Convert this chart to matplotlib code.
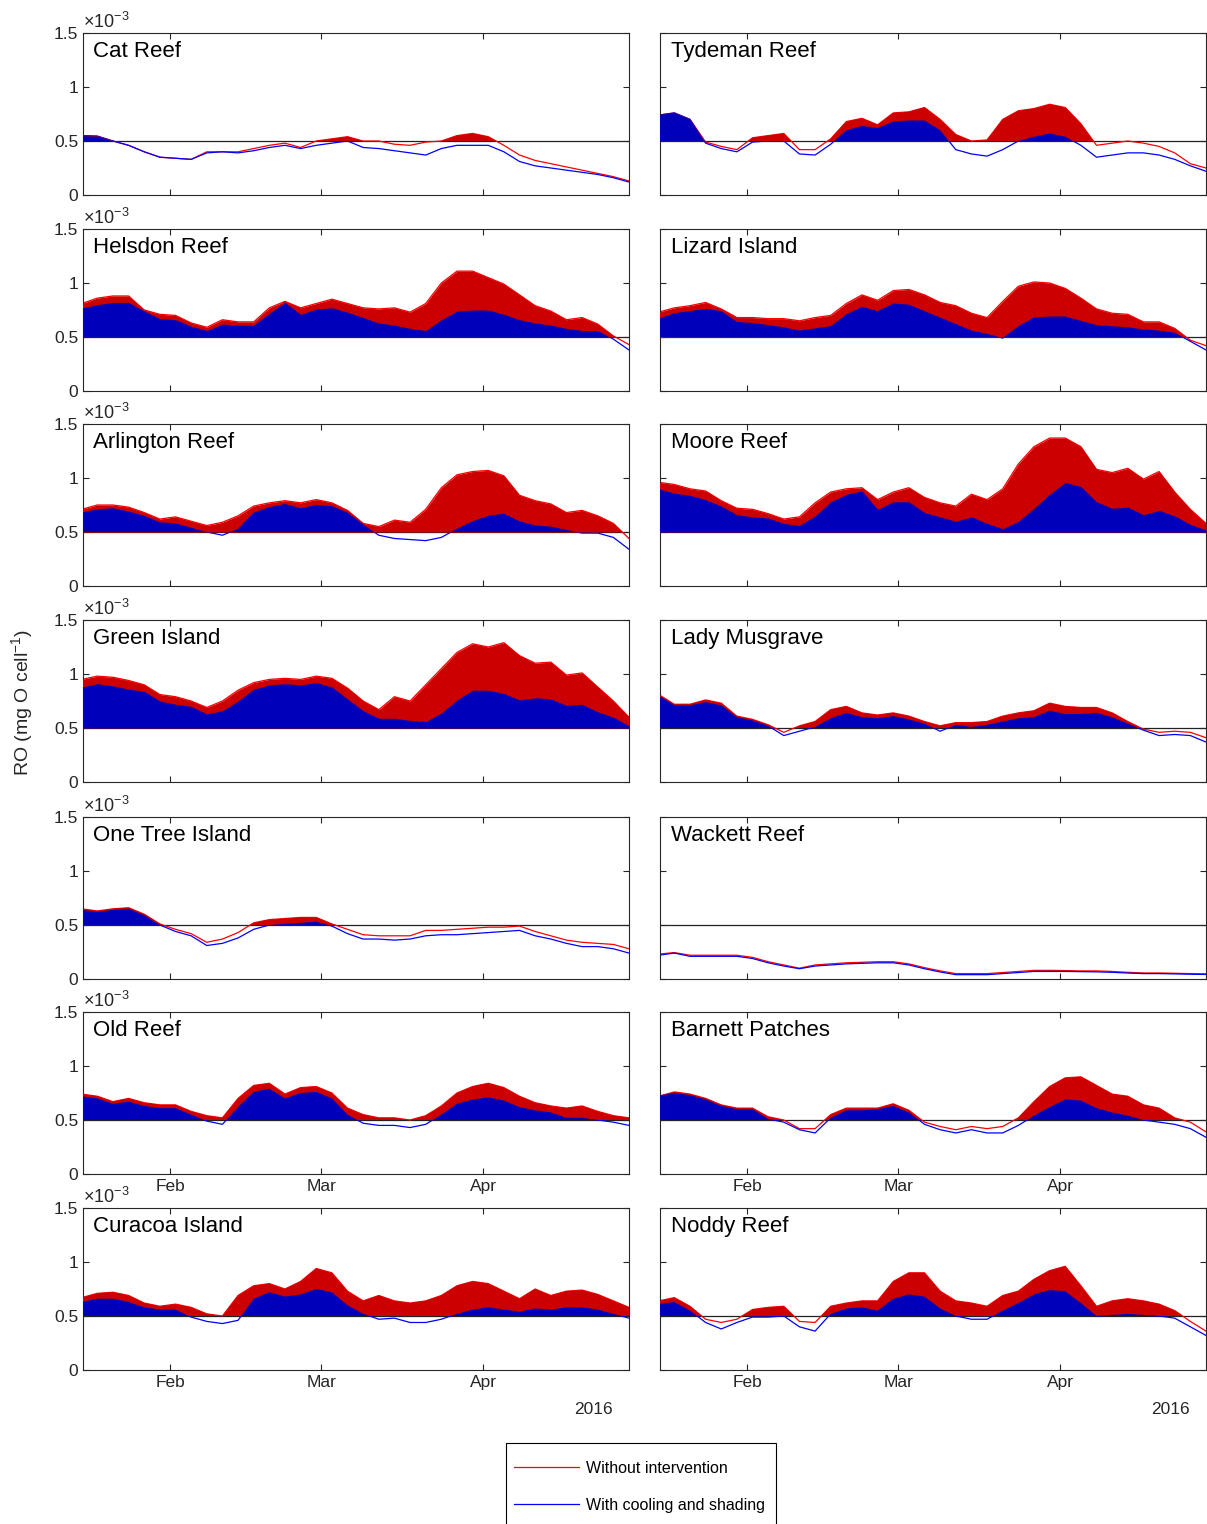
import numpy as np
import pandas as pd
import matplotlib
matplotlib.use("Agg")
import matplotlib.pyplot as plt
import matplotlib.dates as mdates
from matplotlib.lines import Line2D
from matplotlib.patches import Rectangle

plt.rcParams['font.family'] = ['Liberation Sans', 'DejaVu Sans']
plt.rcParams['mathtext.fontset'] = 'custom'
plt.rcParams['mathtext.rm'] = 'Liberation Sans'
plt.rcParams['mathtext.it'] = 'Liberation Sans:italic'

# sample dates, every 3 days (units of 1e-3 mg O cell^-1)
dates = pd.date_range('2016-01-15', '2016-04-29', freq='3D')

cat_red = [0.55, 0.545, 0.50, 0.46, 0.40, 0.35, 0.34, 0.33, 0.40, 0.40, 0.40, 0.43, 0.46, 0.48, 0.44, 0.50, 0.52, 0.54,
           0.50, 0.50, 0.47, 0.46, 0.49, 0.50, 0.55, 0.57, 0.54, 0.46, 0.37, 0.32, 0.29, 0.26, 0.23, 0.20, 0.17, 0.13]
cat_blue = [0.55, 0.545, 0.50, 0.46, 0.40, 0.35, 0.34, 0.33, 0.39, 0.40, 0.39, 0.41, 0.44, 0.46, 0.43, 0.46, 0.48, 0.50,
            0.44, 0.43, 0.41, 0.39, 0.37, 0.43, 0.46, 0.46, 0.46, 0.40, 0.31, 0.27, 0.25, 0.23, 0.21, 0.19, 0.16, 0.12]

tyd_red = [0.74, 0.76, 0.70, 0.49, 0.45, 0.42, 0.53, 0.55, 0.57, 0.42, 0.42, 0.52, 0.68, 0.71, 0.65, 0.76, 0.77, 0.81,
           0.70, 0.56, 0.50, 0.51, 0.70, 0.78, 0.80, 0.84, 0.81, 0.66, 0.46, 0.48, 0.50, 0.48, 0.45, 0.39, 0.29, 0.25]
tyd_blue = [0.74, 0.76, 0.70, 0.48, 0.43, 0.40, 0.49, 0.50, 0.50, 0.38, 0.37, 0.47, 0.60, 0.64, 0.62, 0.68, 0.69, 0.69,
            0.60, 0.42, 0.38, 0.36, 0.42, 0.50, 0.54, 0.57, 0.54, 0.46, 0.35, 0.37, 0.39, 0.39, 0.37, 0.33, 0.27, 0.22]

hel_red = [0.81, 0.86, 0.88, 0.88, 0.75, 0.71, 0.70, 0.63, 0.59, 0.66, 0.64, 0.64, 0.77, 0.83, 0.77, 0.81, 0.85, 0.81,
           0.77, 0.76, 0.77, 0.73, 0.81, 1.00, 1.11, 1.11, 1.05, 0.99, 0.89, 0.79, 0.74, 0.66, 0.68, 0.62, 0.51, 0.43]
hel_blue = [0.77, 0.80, 0.82, 0.82, 0.74, 0.67, 0.66, 0.60, 0.56, 0.62, 0.61, 0.61, 0.72, 0.82, 0.71, 0.76, 0.77, 0.73,
            0.68, 0.63, 0.61, 0.58, 0.56, 0.66, 0.74, 0.75, 0.75, 0.71, 0.66, 0.63, 0.61, 0.58, 0.56, 0.56, 0.48, 0.38]

liz_red = [0.73, 0.77, 0.79, 0.82, 0.76, 0.68, 0.68, 0.67, 0.67, 0.65, 0.68, 0.70, 0.81, 0.89, 0.84, 0.93, 0.94, 0.89,
           0.82, 0.79, 0.72, 0.68, 0.83, 0.97, 1.01, 1.00, 0.95, 0.86, 0.76, 0.72, 0.71, 0.64, 0.64, 0.58, 0.47, 0.42]
liz_blue = [0.67, 0.72, 0.74, 0.76, 0.74, 0.64, 0.63, 0.61, 0.59, 0.56, 0.58, 0.60, 0.71, 0.78, 0.74, 0.81, 0.80, 0.74,
            0.68, 0.62, 0.56, 0.53, 0.49, 0.60, 0.68, 0.69, 0.69, 0.65, 0.61, 0.60, 0.59, 0.57, 0.56, 0.54, 0.46, 0.38]

arl_red = [0.71, 0.75, 0.75, 0.73, 0.68, 0.62, 0.64, 0.60, 0.56, 0.59, 0.65, 0.74, 0.77, 0.79, 0.77, 0.80, 0.77, 0.70,
           0.58, 0.55, 0.61, 0.59, 0.71, 0.91, 1.03, 1.06, 1.07, 1.02, 0.84, 0.79, 0.76, 0.68, 0.70, 0.65, 0.58, 0.44]
arl_blue = [0.68, 0.71, 0.72, 0.69, 0.65, 0.59, 0.58, 0.54, 0.50, 0.47, 0.53, 0.68, 0.73, 0.76, 0.72, 0.75, 0.74, 0.68,
            0.57, 0.47, 0.44, 0.43, 0.42, 0.45, 0.53, 0.60, 0.65, 0.67, 0.60, 0.56, 0.55, 0.52, 0.49, 0.49, 0.45, 0.34]

moo_red = [0.96, 0.94, 0.90, 0.88, 0.79, 0.72, 0.71, 0.67, 0.62, 0.64, 0.77, 0.87, 0.90, 0.91, 0.80, 0.87, 0.91, 0.82,
           0.77, 0.74, 0.85, 0.80, 0.90, 1.13, 1.29, 1.37, 1.37, 1.29, 1.08, 1.05, 1.09, 0.99, 1.06, 0.87, 0.71, 0.58]
moo_blue = [0.90, 0.86, 0.84, 0.80, 0.74, 0.66, 0.64, 0.63, 0.58, 0.56, 0.65, 0.78, 0.85, 0.88, 0.71, 0.78, 0.78, 0.68,
            0.64, 0.60, 0.64, 0.58, 0.53, 0.60, 0.72, 0.85, 0.96, 0.92, 0.78, 0.72, 0.73, 0.66, 0.70, 0.65, 0.57, 0.52]

grn_red = [0.95, 0.98, 0.97, 0.94, 0.90, 0.81, 0.79, 0.75, 0.69, 0.75, 0.85, 0.92, 0.95, 0.96, 0.95, 0.98, 0.96, 0.87,
           0.75, 0.67, 0.79, 0.75, 0.90, 1.05, 1.20, 1.28, 1.25, 1.29, 1.17, 1.10, 1.11, 0.99, 1.01, 0.88, 0.75, 0.60]
grn_blue = [0.88, 0.91, 0.89, 0.86, 0.84, 0.75, 0.72, 0.70, 0.63, 0.66, 0.75, 0.86, 0.90, 0.91, 0.90, 0.92, 0.88, 0.77,
            0.66, 0.59, 0.59, 0.57, 0.56, 0.64, 0.76, 0.85, 0.85, 0.82, 0.76, 0.78, 0.77, 0.71, 0.72, 0.65, 0.60, 0.52]

lad_red = [0.81, 0.72, 0.72, 0.76, 0.73, 0.61, 0.58, 0.53, 0.46, 0.52, 0.56, 0.67, 0.70, 0.64, 0.62, 0.64, 0.61, 0.56,
           0.52, 0.55, 0.55, 0.56, 0.61, 0.64, 0.66, 0.73, 0.70, 0.69, 0.69, 0.64, 0.56, 0.49, 0.46, 0.47, 0.46, 0.41]
lad_blue = [0.80, 0.71, 0.71, 0.74, 0.71, 0.60, 0.57, 0.52, 0.43, 0.47, 0.51, 0.59, 0.64, 0.60, 0.59, 0.61, 0.58, 0.54,
            0.47, 0.53, 0.51, 0.53, 0.56, 0.59, 0.60, 0.66, 0.63, 0.63, 0.64, 0.60, 0.54, 0.48, 0.43, 0.44, 0.43, 0.37]

one_red = [0.65, 0.63, 0.65, 0.66, 0.60, 0.51, 0.46, 0.42, 0.34, 0.37, 0.43, 0.52, 0.55, 0.56, 0.57, 0.57, 0.51, 0.46,
           0.41, 0.40, 0.40, 0.40, 0.45, 0.45, 0.46, 0.47, 0.48, 0.48, 0.49, 0.44, 0.40, 0.36, 0.34, 0.33, 0.32, 0.28]
one_blue = [0.64, 0.62, 0.64, 0.65, 0.59, 0.50, 0.44, 0.40, 0.31, 0.33, 0.38, 0.46, 0.50, 0.51, 0.52, 0.53, 0.49, 0.42,
            0.37, 0.37, 0.36, 0.37, 0.40, 0.41, 0.41, 0.42, 0.43, 0.44, 0.45, 0.40, 0.37, 0.33, 0.30, 0.30, 0.28, 0.24]

wac_red = [0.23, 0.245, 0.22, 0.22, 0.22, 0.22, 0.20, 0.16, 0.13, 0.10, 0.13, 0.14, 0.15, 0.155, 0.16, 0.16, 0.14, 0.105,
           0.075, 0.05, 0.05, 0.05, 0.06, 0.07, 0.08, 0.08, 0.078, 0.075, 0.075, 0.07, 0.062, 0.056, 0.056, 0.053, 0.05, 0.048]
wac_blue = [0.22, 0.24, 0.21, 0.21, 0.21, 0.21, 0.19, 0.15, 0.12, 0.095, 0.12, 0.13, 0.14, 0.145, 0.15, 0.15, 0.13, 0.095,
            0.065, 0.04, 0.04, 0.04, 0.05, 0.06, 0.07, 0.07, 0.07, 0.068, 0.066, 0.062, 0.055, 0.05, 0.05, 0.047, 0.044, 0.042]

old_red = [0.74, 0.72, 0.67, 0.70, 0.66, 0.64, 0.64, 0.58, 0.54, 0.52, 0.70, 0.82, 0.84, 0.74, 0.80, 0.81, 0.75, 0.61,
           0.55, 0.52, 0.52, 0.50, 0.54, 0.63, 0.75, 0.81, 0.84, 0.80, 0.72, 0.66, 0.63, 0.61, 0.63, 0.58, 0.54, 0.52]
old_blue = [0.72, 0.70, 0.65, 0.67, 0.63, 0.61, 0.61, 0.55, 0.49, 0.46, 0.62, 0.76, 0.79, 0.70, 0.75, 0.76, 0.70, 0.55,
            0.47, 0.45, 0.45, 0.43, 0.46, 0.55, 0.65, 0.69, 0.71, 0.68, 0.62, 0.59, 0.57, 0.52, 0.52, 0.50, 0.48, 0.45]

bar_red = [0.72, 0.76, 0.74, 0.70, 0.64, 0.61, 0.61, 0.53, 0.50, 0.42, 0.42, 0.55, 0.61, 0.61, 0.61, 0.65, 0.59, 0.48,
           0.44, 0.41, 0.44, 0.42, 0.44, 0.52, 0.67, 0.81, 0.89, 0.90, 0.82, 0.74, 0.72, 0.64, 0.61, 0.52, 0.48, 0.39]
bar_blue = [0.72, 0.75, 0.73, 0.69, 0.63, 0.60, 0.60, 0.51, 0.48, 0.41, 0.38, 0.52, 0.59, 0.59, 0.60, 0.63, 0.57, 0.46,
            0.41, 0.38, 0.41, 0.38, 0.38, 0.45, 0.54, 0.62, 0.69, 0.68, 0.61, 0.57, 0.54, 0.50, 0.48, 0.46, 0.42, 0.34]

cur_red = [0.67, 0.71, 0.72, 0.69, 0.62, 0.59, 0.61, 0.58, 0.52, 0.50, 0.69, 0.78, 0.80, 0.75, 0.82, 0.94, 0.90, 0.73,
           0.64, 0.69, 0.64, 0.62, 0.64, 0.69, 0.78, 0.82, 0.80, 0.73, 0.66, 0.75, 0.69, 0.73, 0.74, 0.70, 0.64, 0.58]
cur_blue = [0.63, 0.66, 0.66, 0.63, 0.58, 0.56, 0.56, 0.49, 0.45, 0.43, 0.46, 0.66, 0.72, 0.68, 0.70, 0.75, 0.72, 0.60,
            0.52, 0.47, 0.48, 0.44, 0.44, 0.47, 0.52, 0.56, 0.58, 0.56, 0.54, 0.57, 0.56, 0.58, 0.58, 0.56, 0.52, 0.48]

nod_red = [0.64, 0.67, 0.59, 0.47, 0.44, 0.47, 0.56, 0.58, 0.59, 0.45, 0.44, 0.59, 0.62, 0.64, 0.64, 0.82, 0.90, 0.90,
           0.73, 0.64, 0.62, 0.59, 0.69, 0.73, 0.84, 0.92, 0.96, 0.78, 0.59, 0.64, 0.66, 0.64, 0.61, 0.55, 0.45, 0.36]
nod_blue = [0.61, 0.63, 0.55, 0.44, 0.38, 0.44, 0.49, 0.49, 0.50, 0.40, 0.36, 0.52, 0.57, 0.58, 0.55, 0.66, 0.70, 0.68,
            0.57, 0.50, 0.47, 0.47, 0.55, 0.62, 0.70, 0.74, 0.73, 0.62, 0.50, 0.51, 0.52, 0.51, 0.50, 0.48, 0.40, 0.32]

left_sites = [("Cat Reef", cat_red, cat_blue), ("Helsdon Reef", hel_red, hel_blue),
              ("Arlington Reef", arl_red, arl_blue), ("Green Island", grn_red, grn_blue),
              ("One Tree Island", one_red, one_blue), ("Old Reef", old_red, old_blue),
              ("Curacoa Island", cur_red, cur_blue)]
right_sites = [("Tydeman Reef", tyd_red, tyd_blue), ("Lizard Island", liz_red, liz_blue),
               ("Moore Reef", moo_red, moo_blue), ("Lady Musgrave", lad_red, lad_blue),
               ("Wackett Reef", wac_red, wac_blue), ("Barnett Patches", bar_red, bar_blue),
               ("Noddy Reef", nod_red, nod_blue)]

threshold = 0.5
W, H = 1207, 1524
row_tops = [33, 229, 424, 620, 817, 1012, 1208]
row_h = 162
axcol = '#262626'

fig = plt.figure(figsize=(W / 100, H / 100), dpi=100)


def draw_panel(ax, name, red, blue, is_left, row):
    red = np.array(red)
    blue = np.array(blue)
    ax.plot(dates, red, color='#ff0000', lw=0.9, zorder=2)
    ax.plot(dates, blue, color='#0000ff', lw=0.9, zorder=2)
    ax.fill_between(dates, threshold, red, where=red > threshold, interpolate=True,
                    color='#cc0000', lw=0, zorder=3)
    ax.fill_between(dates, threshold, blue, where=blue > threshold, interpolate=True,
                    color='#0000bb', lw=0, zorder=4)
    ax.axhline(threshold, color='#222222', lw=0.9, zorder=1)

    ax.set_xlim(pd.Timestamp('2016-01-15 06:00'), pd.Timestamp('2016-04-29'))
    ax.set_ylim(0, 1.5)
    ax.set_yticks([0, 0.5, 1, 1.5])
    ax.xaxis.set_major_locator(mdates.MonthLocator())
    ax.xaxis.set_major_formatter(mdates.DateFormatter('%b'))
    ax.tick_params(direction='in', top=True, right=True, length=4, width=0.8,
                   colors=axcol, labelsize=12.5)
    for sp in ax.spines.values():
        sp.set_color(axcol)
        sp.set_linewidth(0.8)

    if is_left:
        ax.set_yticklabels(['0', '0.5', '1', '1.5'])
        ax.text(0.0, 1.005, r'$\times 10^{-3}$', transform=ax.transAxes, fontsize=13,
                color=axcol, ha='left', va='bottom')
    else:
        ax.set_yticklabels([])
    if row < 5:
        ax.set_xticklabels([])
    if row == 6:
        ax.text(0.97, -0.245, '2016', transform=ax.transAxes, fontsize=12.5,
                color=axcol, ha='right', va='center')

    ax.text(0.018 if is_left else 0.02, 0.885, name, transform=ax.transAxes,
            fontsize=16, ha='left', va='center', color='black')


for row in range(7):
    bottom = 1 - (row_tops[row] + row_h) / H
    h = row_h / H
    axl = fig.add_axes([83 / W, bottom, 546 / W, h])
    name, red, blue = left_sites[row]
    draw_panel(axl, name, red, blue, True, row)
    axr = fig.add_axes([660 / W, bottom, 546 / W, h])
    name, red, blue = right_sites[row]
    draw_panel(axr, name, red, blue, False, row)

fig.text(22 / W, 1 - 702 / H, r'RO (mg O cell$^{-1}$)', rotation=90,
         fontsize=14, ha='center', va='center', color=axcol)

# legend box (runs off the bottom edge like the original)
fig.patches.append(Rectangle((506 / W, -0.01), 270 / W, 0.01 + 1 - 1443 / H,
                             transform=fig.transFigure, facecolor='white',
                             edgecolor='black', lw=0.8, zorder=5))
handles = [Line2D([], [], color='#ff0000', lw=0.9), Line2D([], [], color='#0000ff', lw=0.9)]
leg = fig.legend(handles, ['Without intervention', 'With cooling and shading'],
                 loc='upper left', bbox_to_anchor=(514 / W, 1 - 1461 / H),
                 fontsize=11.5, frameon=False, borderaxespad=0, borderpad=0,
                 handlelength=4.1, handletextpad=0.38, labelspacing=1.36)
leg.set_zorder(6)

fig.savefig('out.png', dpi=100)
